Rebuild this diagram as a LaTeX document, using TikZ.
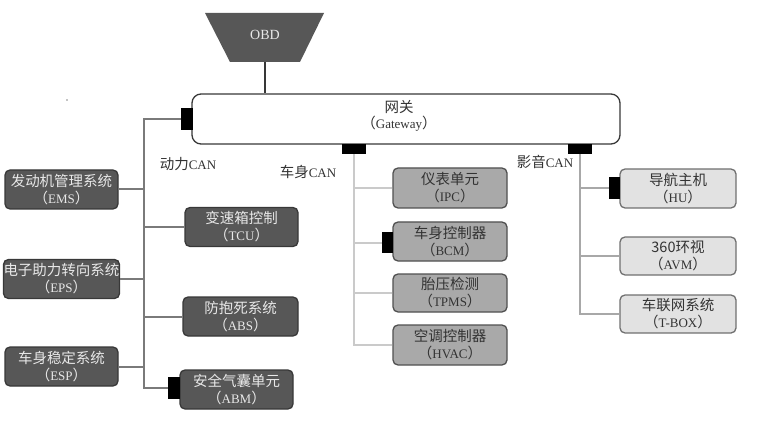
\documentclass[tikz,border=0pt]{standalone}
\usepackage{fontspec}
\setmainfont{Liberation Serif}
\newfontfamily\cjk{Noto Sans CJK SC}
\newcommand{\zh}[1]{{\cjk\fontsize{14.5}{17}\selectfont #1}}
\newcommand{\twol}[2]{\zh{#1}\\\zh{（}#2\zh{）}}
\definecolor{darkfill}{HTML}{575757}
\definecolor{darkdraw}{HTML}{383838}
\definecolor{darktext}{HTML}{E8E8E8}
\definecolor{bodyfill}{HTML}{A9A9A9}
\definecolor{bodydraw}{HTML}{505050}
\definecolor{mediafill}{HTML}{E2E2E2}
\definecolor{mediadraw}{HTML}{707070}
\definecolor{txt}{HTML}{333333}
\definecolor{powerline}{HTML}{7A7A7A}
\definecolor{bodyline}{HTML}{CACACA}
\definecolor{medialine}{HTML}{A8A8A8}
\tikzset{
 base/.style={rectangle, rounded corners=5pt, inner sep=0pt, align=center, line width=1.3pt, font=\fontsize{13}{17}\selectfont},
 darkbox/.style={base, fill=darkfill, draw=darkdraw, text=darktext, minimum width=113pt, minimum height=39pt},
 bodybox/.style={base, fill=bodyfill, draw=bodydraw, text=txt, minimum width=114pt, minimum height=39pt},
 mediabox/.style={base, fill=mediafill, draw=mediadraw, text=txt, minimum width=116pt, minimum height=38pt},
 plug/.style={fill=black, inner sep=0pt},
 pline/.style={draw=powerline, line width=2pt},
 bline/.style={draw=bodyline, line width=2pt},
 mline/.style={draw=medialine, line width=2pt},
 canlab/.style={font=\fontsize{13}{15}\selectfont, text=txt, inner sep=0pt},
}
\begin{document}
\begin{tikzpicture}[x=1pt,y=-1pt]
\useasboundingbox (0,0) rectangle (769,433);
% OBD
\fill[darkfill] (205,13) -- (324,13) -- (300,62) -- (230,62) -- cycle;
\node[text=darktext, font=\fontsize{14}{16}\selectfont] (obd) at (265,35) {OBD};
\coordinate (obdb) at (265,62);
% gateway
\node[base, fill=white, draw=darkdraw, rounded corners=9pt, minimum width=428pt, minimum height=50pt, text=txt] (gw) at (406,119) {};
\node[text=txt, font=\fontsize{13}{16}\selectfont, align=center, inner sep=0pt] (gwt) at (399,116) {\zh{网关}\\\zh{（}Gateway\zh{）}};
\draw[line width=2pt, draw=darkdraw] (obdb) -- (gw.north -| obdb);
% plugs on gateway
\node[plug, minimum width=12pt, minimum height=22pt] (gwL) at (187,119) {};
\node[plug, minimum width=24pt, minimum height=10pt] (gwB) at (354,149) {};
\node[plug, minimum width=24pt, minimum height=10pt] (gwM) at (580,149) {};
% power CAN nodes
\node[darkbox] (EMS) at (61.5,189.5) {\twol{发动机管理系统}{EMS}};
\node[darkbox] (EPS) at (61.5,279) {\twol{电子助力转向系统}{EPS}};
\node[darkbox] (ESP) at (61.5,366.5) {\twol{车身稳定系统}{ESP}};
\node[darkbox] (TCU) at (241.5,227) {\twol{变速箱控制}{TCU}};
\node[darkbox, minimum width=115pt] (ABS) at (240.5,316.5) {\twol{防抱死系统}{ABS}};
\node[darkbox] (ABM) at (236.5,389.5) {\twol{安全气囊单元}{ABM}};
\node[plug, minimum width=12pt, minimum height=22pt] (ABMc) at (174,388) {};
% body CAN nodes
\node[bodybox, minimum height=40pt] (IPC) at (450,188) {\twol{仪表单元}{IPC}};
\node[bodybox] (BCM) at (450,241.5) {\twol{车身控制器}{BCM}};
\node[bodybox, minimum height=38pt] (TPMS) at (450,293) {\twol{胎压检测}{TPMS}};
\node[bodybox, minimum height=40pt] (HVAC) at (450,345) {\twol{空调控制器}{HVAC}};
\node[plug, minimum width=11pt, minimum height=21pt] (BCMc) at (387.5,242.5) {};
% media CAN nodes
\node[mediabox, minimum height=39pt] (HU) at (678,188.5) {\twol{导航主机}{HU}};
\node[mediabox] (AVM) at (678,256) {\twol{360环视}{AVM}};
\node[mediabox] (TBOX) at (678,314) {\twol{车联网系统}{T-BOX}};
\node[plug, minimum width=11pt, minimum height=22pt] (HUc) at (614.5,188) {};
% CAN labels
\node[canlab] (lp) at (188,164) {\zh{动力}CAN};
\node[canlab] (lb) at (308,172) {\zh{车身}CAN};
\node[canlab] (lm) at (545,162) {\zh{影音}CAN};
% power bus
\coordinate (p1) at (144,119);
\coordinate (p2) at (144,388);
\draw[pline] (gwL.west) -- (p1) -- (p2) -- (ABMc.west);
\draw[pline] (EMS.east) -- (EMS.east -| p1);
\draw[pline] (EPS.east) -- (EPS.east -| p1);
\draw[pline] (ESP.east) -- (ESP.east -| p1);
\draw[pline] (TCU.west) -- (TCU.west -| p1);
\draw[pline] (ABS.west) -- (ABS.west -| p1);
% body bus
\draw[bline] (gwB.south) -- (gwB.south |- HVAC.west) -- (HVAC.west);
\draw[bline] (IPC.west) -- (IPC.west -| gwB.south);
\draw[bline] (BCMc.west) -- (BCMc.west -| gwB.south);
\draw[bline] (TPMS.west) -- (TPMS.west -| gwB.south);
% media bus
\draw[mline] (gwM.south) -- (gwM.south |- TBOX.west) -- (TBOX.west);
\draw[mline] (HUc.west) -- (HUc.west -| gwM.south);
\draw[mline] (AVM.west) -- (AVM.west -| gwM.south);
% speck
\fill[black] (67,100) circle (0.7pt);
\end{tikzpicture}
\end{document}
